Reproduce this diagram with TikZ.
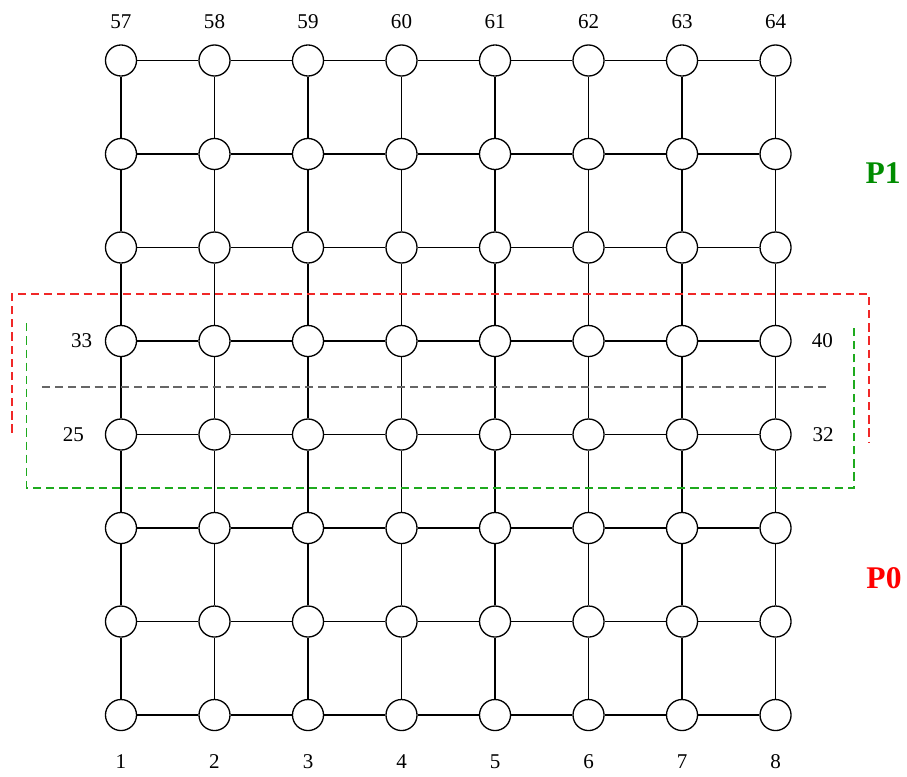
\documentclass[tikz,border=0pt]{standalone}
\usepackage{fontspec}
\setmainfont{Liberation Serif}
\definecolor{pzero}{RGB}{255,0,0}
\definecolor{pone}{RGB}{0,140,0}
\definecolor{redbox}{RGB}{240,40,40}
\definecolor{greenbox}{RGB}{30,170,30}
\begin{document}
\begin{tikzpicture}[line width=0.4pt,
  vertex/.style={circle,draw,minimum size=0.332cm,inner sep=0pt,fill=white},
  numlbl/.style={font=\fontsize{6.4}{7.5}\selectfont,inner sep=0pt},
  partlbl/.style={font=\fontsize{9.6}{11}\selectfont\bfseries,inner sep=0pt},
  cut/.style={line width=0.45pt,dash pattern=on 2.5pt off 1.5pt}]
\useasboundingbox (-1.294,-0.652) rectangle (8.406,7.647);

% grid of vertices
\foreach \r in {0,...,7}
  \foreach \c in {0,...,7}{
    \pgfmathtruncatemacro{\k}{8*\r+\c+1}
    \node[vertex] (n\k) at (\c,\r) {};
  }

% horizontal edges
\foreach \r in {0,...,7}
  \foreach \c in {1,...,7}{
    \pgfmathtruncatemacro{\a}{8*\r+\c}
    \pgfmathtruncatemacro{\b}{\a+1}
    \draw (n\a) -- (n\b);
  }
% vertical edges
\foreach \r in {0,...,6}
  \foreach \c in {1,...,8}{
    \pgfmathtruncatemacro{\a}{8*\r+\c}
    \pgfmathtruncatemacro{\b}{\a+8}
    \draw (n\a) -- (n\b);
  }

% numbering
\foreach \c in {1,...,8}{
  \pgfmathtruncatemacro{\k}{56+\c}
  \node[numlbl] (top\k) at (\c-1,7.42) {\k};
  \node[numlbl] (bot\c) at (\c-1,-0.50) {\c};
}
\node[numlbl] (l33) at (-0.42,4) {33};
\node[numlbl] (l25) at (-0.51,3) {25};
\node[numlbl] (l40) at (7.50,4) {40};
\node[numlbl] (l32) at (7.51,3) {32};

% partitions
\draw[cut,redbox] (-1.165,3.02) -- (-1.165,4.505) -- (8.0,4.505) -- (8.0,2.92);
\draw[cut,greenbox] (-1.008,4.19) -- (-1.008,2.43) -- (7.84,2.43) -- (7.84,4.19);
\draw[cut,black!60] (-0.845,3.51) -- (7.58,3.51);

\node[partlbl,text=pone] (p1) at (8.15,5.80) {P1};
\node[partlbl,text=pzero] (p0) at (8.16,1.465) {P0};
\end{tikzpicture}
\end{document}
